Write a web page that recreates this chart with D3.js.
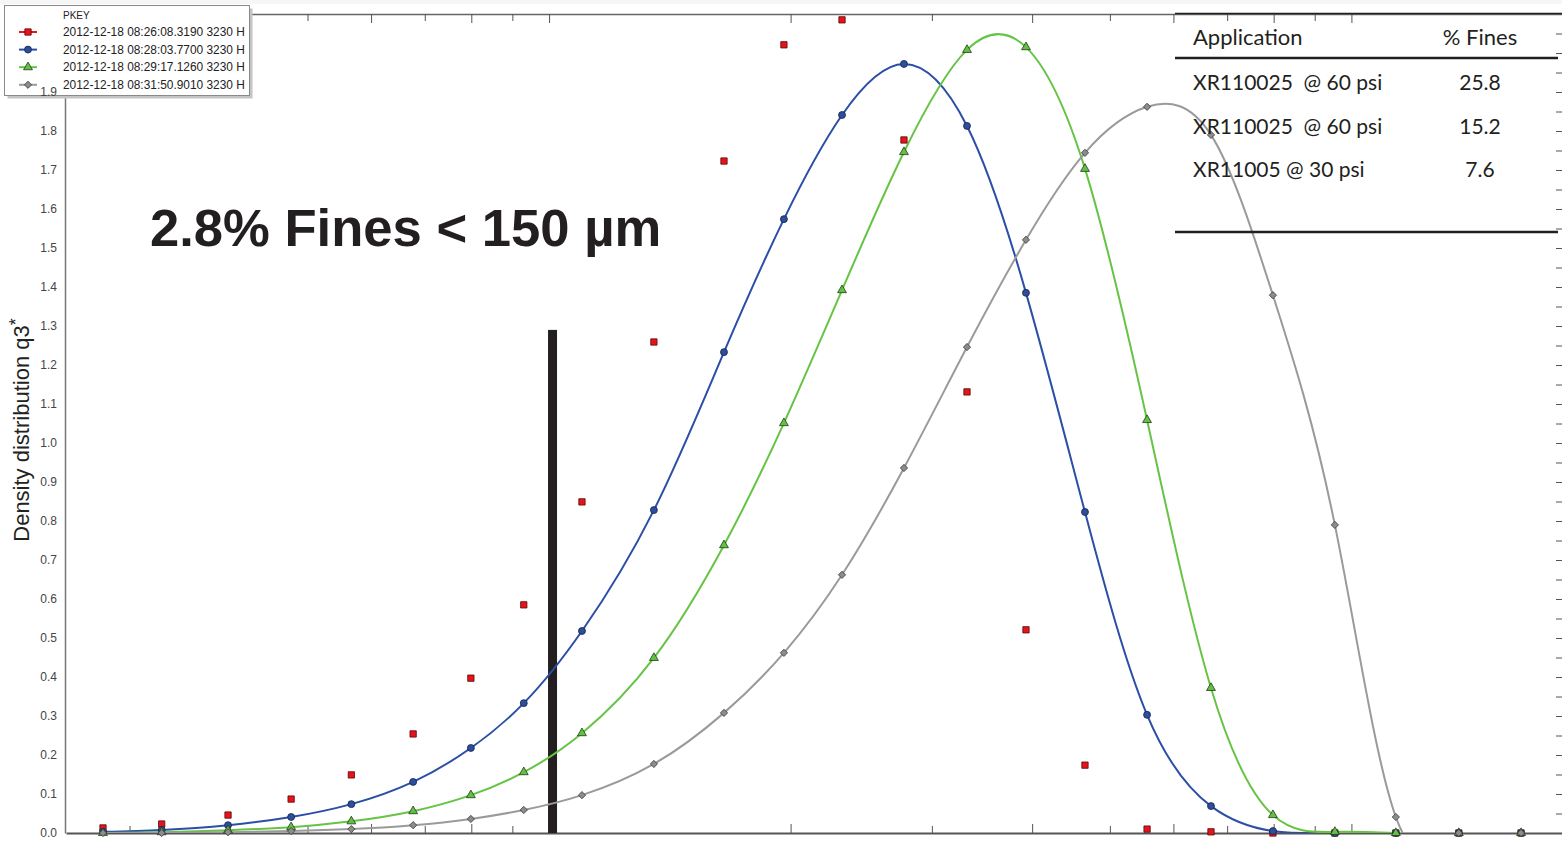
<!DOCTYPE html>
<html>

<head>
    <meta charset="utf-8">
    <script src="https://d3js.org/d3.v7.min.js"></script>
    <style>
        body {
            margin: 0;
            background: #fff;
            overflow: hidden;
        }

        svg text {
            font-family: "Liberation Sans", Arial, sans-serif;
        }

        .table text {
            font-family: Lato, "Open Sans", sans-serif;
            fill: #231f20;
        }

        .tick line {
            stroke: #555;
        }
    </style>
</head>

<body>
    <svg id="chart" width="1562" height="843"></svg>
    <script>
        // particle size (µm) of every point, one per size class
        var sizes = [27.8, 32.9, 39.8, 47.7, 56.7, 67.7, 79.9, 93.0, 109.9, 135.1, 165.2, 196.2, 231.8, 276.9, 331.8, 393, 465.5, 556.3, 668.3, 798.3, 953.6, 1136, 1361, 1627];

        // density distribution q3* per run
        var q3Red = [0.013, 0.023, 0.046, 0.087, 0.149, 0.254, 0.397, 0.585, 0.849, 1.259, 1.723, 2.021, 2.085, 1.777, 1.131, 0.521, 0.174, 0.010, 0.003, 0, 0, 0, 0, 0];
        var q3Blue = [0.003, 0.008, 0.020, 0.041, 0.074, 0.131, 0.218, 0.333, 0.518, 0.828, 1.233, 1.574, 1.841, 1.972, 1.813, 1.385, 0.823, 0.303, 0.069, 0.005, 0, 0, 0, 0];
        var q3Green = [0, 0.002, 0.007, 0.015, 0.030, 0.056, 0.097, 0.156, 0.256, 0.449, 0.738, 1.051, 1.392, 1.746, 2.008, 2.015, 1.703, 1.059, 0.372, 0.046, 0.003, 0, 0, 0];
        var q3Gray = [0, 0, 0.002, 0.005, 0.010, 0.020, 0.036, 0.059, 0.097, 0.177, 0.308, 0.462, 0.662, 0.936, 1.246, 1.521, 1.744, 1.862, 1.790, 1.379, 0.790, 0.041, 0, 0];

        var legendLabels = ["2012-12-18 08:26:08.3190 3230 H", "2012-12-18 08:28:03.7700 3230 H",
            "2012-12-18 08:29:17.1260 3230 H", "2012-12-18 08:31:50.9010 3230 H"];

        var majorX = [40, 60, 80, 100, 200, 400, 600, 800, 1000];
        var minorX = [30, 50, 70, 90, 300, 500, 700, 900];
        var yTickLabels = ["0.0", "0.1", "0.2", "0.3", "0.4", "0.5", "0.6", "0.7", "0.8", "0.9",
            "1.0", "1.1", "1.2", "1.3", "1.4", "1.5", "1.6", "1.7", "1.8", "1.9"];

        var tableHead = ["Application", "% Fines"];
        var tableApps = ["XR110025  @ 60 psi", "XR110025  @ 60 psi", "XR11005 @ 30 psi"];
        var tableFines = ["25.8", "15.2", "7.6"];

        var fineCut = 101;   // black bar
        var fineCutTop = 1.29;
        var fineText = "2.8% Fines < 150 µm";

        var svg = d3.select("#chart");
        var x = d3.scaleLog().domain([25, 1830]).range([66, 1562]);
        var y = d3.scaleLinear().domain([0, 2.1]).range([833, 14]);

        var series = [
            { name: legendLabels[0], values: q3Red, line: null, fill: "#e5141b", stroke: "#5a0808", symbol: d3.symbolSquare, size: 40, rot: 0 },
            { name: legendLabels[1], values: q3Blue, line: "#2b4ea6", fill: "#2d4e9c", stroke: "#14234a", symbol: d3.symbolCircle, size: 38, rot: 0 },
            { name: legendLabels[2], values: q3Green, line: "#66c445", fill: "#62c043", stroke: "#1f3a16", symbol: d3.symbolTriangle, size: 34, rot: 0 },
            { name: legendLabels[3], values: q3Gray, line: "#9a9a9a", fill: "#8c8c8c", stroke: "#3c3c3c", symbol: d3.symbolSquare, size: 26, rot: 45 }
        ];

        // top band of the screenshot
        svg.append("rect").attr("width", 1562).attr("height", 4).attr("fill", "#f6f6f6");

        // axes lines & ticks
        var bottomMajor = svg.append("g").attr("transform", "translate(0,833)")
            .call(d3.axisBottom(x).tickValues(majorX).tickFormat("").tickSizeInner(-9).tickSizeOuter(0));
        bottomMajor.select(".domain").attr("stroke", "#555").attr("stroke-width", 2);
        svg.append("g").attr("transform", "translate(0,833)")
            .call(d3.axisBottom(x).tickValues(minorX).tickFormat("").tickSizeInner(-7).tickSizeOuter(0))
            .select(".domain").remove();

        var topMajor = svg.append("g").attr("transform", "translate(0,14)")
            .call(d3.axisBottom(x).tickValues(majorX).tickFormat("").tickSizeInner(9).tickSizeOuter(0));
        topMajor.select(".domain").attr("stroke", "#666").attr("stroke-width", 1.5);
        svg.append("g").attr("transform", "translate(0,14)")
            .call(d3.axisBottom(x).tickValues(minorX).tickFormat("").tickSizeInner(7).tickSizeOuter(0))
            .select(".domain").remove();

        var rightVals = d3.range(1, 42).map(i => i * 0.05);
        svg.append("g").attr("transform", "translate(1562,0)")
            .call(d3.axisLeft(y).tickValues(rightVals).tickFormat("").tickSizeInner(6).tickSizeOuter(0))
            .select(".domain").remove();

        var leftAxis = svg.append("g").attr("transform", "translate(65,0)")
            .call(d3.axisLeft(y).tickValues(yTickLabels.map(Number)).tickFormat("").tickSize(0));
        leftAxis.select(".domain").attr("stroke", "#777").attr("stroke-width", 1.5);

        // fines bar
        svg.append("rect")
            .attr("x", x(fineCut) - 4.5)
            .attr("y", y(fineCutTop))
            .attr("width", 9)
            .attr("height", y(0) - y(fineCutTop))
            .attr("fill", "#231f20");

        // curves: spline up to the first zero after the peak
        svg.append("clipPath").attr("id", "plot").append("rect")
            .attr("x", 66).attr("y", 14).attr("width", 1496).attr("height", 819);

        var line = d3.line()
            .x(d => x(d[0]))
            .y(d => y(d[1]))
            .curve(d3.curveNatural);

        function curvePoints(values) {
            var last = d3.max(values.map((v, i) => v > 0 ? i : 0));
            var end = Math.min(values.length, last + 2);
            return values.slice(0, end).map((v, i) => [sizes[i], v]);
        }

        svg.append("g").attr("clip-path", "url(#plot)")
            .selectAll("path")
            .data(series.filter(s => s.line))
            .join("path")
            .attr("d", s => line(curvePoints(s.values)))
            .attr("fill", "none")
            .attr("stroke", s => s.line)
            .attr("stroke-width", 2);

        // markers
        series.forEach(s => {
            svg.append("g").selectAll("path")
                .data(s.values)
                .join("path")
                .attr("d", d3.symbol().type(s.symbol).size(s.size))
                .attr("transform", (d, i) => `translate(${x(sizes[i])},${y(d)}) rotate(${s.rot})`)
                .attr("fill", s.fill)
                .attr("stroke", s.stroke)
                .attr("stroke-width", 0.8);
        });

        // big annotation
        svg.append("text")
            .attr("x", 150)
            .attr("y", 246)
            .attr("fill", "#231f20")
            .style("font-size", "52.6px")
            .style("font-weight", "bold")
            .text(fineText);

        // y axis title
        var yTitle = svg.append("text")
            .attr("transform", "translate(29,430) rotate(-90)")
            .attr("text-anchor", "middle")
            .attr("fill", "#222")
            .style("font-size", "22px");
        yTitle.append("tspan").text("Density distribution q3");
        yTitle.append("tspan").attr("dy", -7).style("font-size", "18px").text("*");

        // legend
        var legend = svg.append("g");
        legend.append("rect").attr("x", 7.5).attr("y", 8.5).attr("width", 245).attr("height", 90).attr("fill", "#c4c4c4");
        legend.append("rect").attr("x", 4.5).attr("y", 5.5).attr("width", 245).attr("height", 90)
            .attr("fill", "#fff").attr("stroke", "#8a8a8a");
        legend.append("text").attr("x", 63).attr("y", 19).attr("fill", "#222").style("font-size", "10px").text("PKEY");

        var rows = legend.selectAll("g.row")
            .data(series)
            .join("g")
            .attr("class", "row")
            .attr("transform", (s, i) => `translate(0,${32 + i * 17.6})`);
        rows.append("line").attr("x1", 19).attr("x2", 37)
            .attr("stroke", s => s.line || "#e5141b").attr("stroke-width", 2);
        rows.append("path")
            .attr("d", s => d3.symbol().type(s.symbol).size(s.size)())
            .attr("transform", s => `translate(28,0) rotate(${s.rot})`)
            .attr("fill", s => s.fill)
            .attr("stroke", s => s.stroke)
            .attr("stroke-width", 0.8);
        rows.append("text").attr("x", 63).attr("y", 4).attr("fill", "#222")
            .style("font-size", "11.9px").text(s => s.name);

        // y tick labels sit above the legend box
        svg.append("g").selectAll("text")
            .data(yTickLabels)
            .join("text")
            .attr("x", 57)
            .attr("y", d => y(+d) + 4)
            .attr("text-anchor", "end")
            .attr("fill", "#444")
            .style("font-size", "12px")
            .text(d => d);

        // table
        var table = svg.append("g").attr("class", "table");
        table.append("line").attr("x1", 1175).attr("x2", 1562).attr("y1", 13.5).attr("y2", 13.5).attr("stroke", "#231f20").attr("stroke-width", 1.5);
        table.append("line").attr("x1", 1175).attr("x2", 1558).attr("y1", 58).attr("y2", 58).attr("stroke", "#231f20").attr("stroke-width", 2.5);
        table.append("line").attr("x1", 1175).attr("x2", 1558).attr("y1", 232).attr("y2", 232).attr("stroke", "#231f20").attr("stroke-width", 2.5);
        table.append("text").attr("x", 1193).attr("y", 45).style("font-size", "22px").text(tableHead[0]);
        table.append("text").attr("x", 1480).attr("y", 45).attr("text-anchor", "middle").style("font-size", "22px").text(tableHead[1]);
        tableApps.forEach((t, i) => {
            table.append("text").attr("x", 1193).attr("y", 90 + i * 43.5).style("font-size", "21px")
                .attr("xml:space", "preserve").text(t);
            table.append("text").attr("x", 1480).attr("y", 90 + i * 43.5).attr("text-anchor", "middle")
                .style("font-size", "21px").text(tableFines[i]);
        });
    </script>
</body>

</html>
